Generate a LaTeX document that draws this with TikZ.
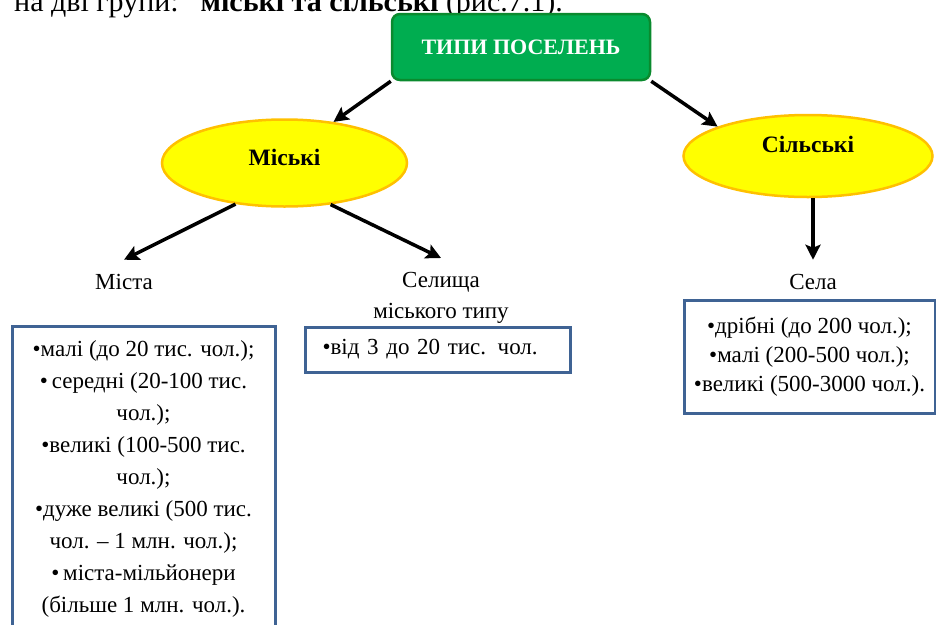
\documentclass[tikz,border=0pt]{standalone}
\usepackage{fontspec}
\setmainfont{Liberation Serif}
\usetikzlibrary{positioning,arrows.meta,shapes.geometric}
\definecolor{headgreen}{HTML}{00AD50}
\definecolor{headline}{HTML}{0A8A2E}
\definecolor{kindyellow}{HTML}{FFFF00}
\definecolor{kindline}{HTML}{FFC000}
\definecolor{infoblue}{HTML}{3F6394}

\begin{document}
\begin{tikzpicture}[x=1pt,y=-1pt,
  head/.style={draw=headline,fill=headgreen,line width=2.5pt,rounded corners=8pt,
    minimum width=258pt,minimum height=66pt,text=white,
    font=\fontsize{22}{24}\selectfont\bfseries},
  kind/.style={ellipse,draw=kindline,fill=kindyellow,line width=2.5pt,inner sep=0pt,
    font=\fontsize{23.5}{26}\selectfont\bfseries},
  lbl/.style={font=\fontsize{23}{31}\selectfont,align=center},
  info/.style={draw=infoblue,line width=3pt,align=center},
  arr/.style={-{Stealth[length=15pt,width=15pt,inset=3pt]},line width=3.5pt}]
  \useasboundingbox (0,0) rectangle (936,624);
  \clip (0,0) rectangle (936,624);
  % line of the page above the scheme
  \node[anchor=base west,inner sep=0pt,font=\fontsize{30}{32}\selectfont] (intro) at (14,11)
    {на дві групи:\hspace{12pt} \textbf{міські та сільські} (рис.7.1).};
  % types
  \node[head] (types) at (521,47) {ТИПИ ПОСЕЛЕНЬ};
  \node[kind,minimum width=245pt,minimum height=87pt,text depth=12pt] (misky)
    at (284.5,163) {Міські};
  \node[kind,minimum width=249pt,minimum height=82pt,text depth=24pt] (silsky)
    at (808,156) {Сільські};
  \draw[arr] (types.south west) -- (misky.40);
  \draw[arr] (types.south east) -- (silsky.162);
  % kinds of settlements
  \node[lbl] (mista) at (124,282) {Міста};
  \node[lbl,anchor=north] (selyshcha) at (441,269) {Селища\\міського типу};
  \node[lbl] (sela) at (813,282) {Села};
  \draw[arr] (misky.220) -- ([yshift=11pt]mista.north);
  \draw[arr] (misky.318) -- ([yshift=11pt]selyshcha.north);
  \draw[arr] (silsky.south -| sela.north) -- ([yshift=11pt]sela.north);
  % sizes
  \node[info,anchor=north,minimum width=263pt,inner ysep=14.5pt,
    font=\fontsize{23}{32}\selectfont] (mistabox) at (143.5,325)
    {•малі (до 20 тис. чол.);\\
     •\,середні (20-100 тис.\\
     чол.);\\
     •великі (100-500 тис.\\
     чол.);\\
     •дуже великі (500 тис.\\
     чол. – 1 млн. чол.);\\
     •\,міста-мільйонери\\
     (більше 1 млн. чол.).};
  \node[info,align=left,minimum width=265pt,minimum height=45pt,text width=230pt,
    inner xsep=17.5pt,font=\fontsize{23}{26}\selectfont] (selbox) at (437.5,349.5)
    {•від 3 до 20 тис. чол.};
  \node[info,minimum width=251pt,minimum height=113pt,
    font=\fontsize{23}{29}\selectfont] (selabox) at (809.5,356.5)
    {•дрібні (до 200 чол.);\\
     •малі (200-500 чол.);\\
     •великі (500-3000 чол.).};
\end{tikzpicture}
\end{document}
